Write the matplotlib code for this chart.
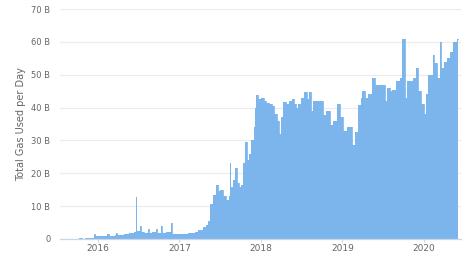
import numpy as np
import pandas as pd
import matplotlib
matplotlib.use("Agg")
import matplotlib.pyplot as plt

# daily gas used (billions), step breakpoints
dates = [
    "2015-07-30", "2015-09-15", "2015-10-10", "2015-10-25", "2015-11-05", "2015-11-20",
    "2015-12-01", "2015-12-14", "2015-12-20", "2016-01-05", "2016-02-14", "2016-02-19",
    "2016-03-01", "2016-03-20", "2016-03-25", "2016-03-30", "2016-04-15", "2016-04-29",
    "2016-05-21", "2016-06-12", "2016-06-19", "2016-06-23", "2016-07-11", "2016-07-15",
    "2016-07-26", "2016-08-14", "2016-08-18", "2016-08-31", "2016-09-18", "2016-09-22",
    "2016-10-11", "2016-10-15", "2016-11-01", "2016-11-25", "2016-11-29", "2016-12-10",
    "2017-01-01", "2017-02-10", "2017-03-10", "2017-03-27", "2017-04-18", "2017-05-01",
    "2017-05-11", "2017-05-20", "2017-06-02", "2017-06-16", "2017-06-25", "2017-07-04",
    "2017-07-15", "2017-07-27", "2017-08-10", "2017-08-14", "2017-08-18", "2017-08-28",
    "2017-09-08", "2017-09-15", "2017-09-23", "2017-10-02", "2017-10-14", "2017-10-24",
    "2017-10-30", "2017-11-10", "2017-11-20", "2017-11-30", "2017-12-05", "2017-12-10",
    "2017-12-20", "2018-01-01", "2018-01-14", "2018-01-25", "2018-02-06", "2018-02-18",
    "2018-03-01", "2018-03-15", "2018-03-25", "2018-03-31", "2018-04-10", "2018-04-25",
    "2018-05-08", "2018-05-20", "2018-05-31", "2018-06-08", "2018-06-15", "2018-07-01",
    "2018-07-15", "2018-07-25", "2018-08-05", "2018-08-15", "2018-08-22", "2018-09-15",
    "2018-10-05", "2018-10-20", "2018-11-05", "2018-11-20", "2018-12-08", "2018-12-20",
    "2019-01-05", "2019-01-20", "2019-02-05", "2019-02-12", "2019-02-26", "2019-03-10",
    "2019-03-25", "2019-03-31", "2019-04-10", "2019-04-26", "2019-05-14", "2019-05-25",
    "2019-06-10", "2019-06-25", "2019-07-11", "2019-07-20", "2019-08-01", "2019-08-11",
    "2019-08-29", "2019-09-16", "2019-09-24", "2019-10-06", "2019-10-17", "2019-10-30",
    "2019-11-13", "2019-11-28", "2019-12-05", "2019-12-20", "2020-01-02", "2020-01-10",
    "2020-01-18", "2020-02-05", "2020-02-09", "2020-02-15", "2020-03-01", "2020-03-14",
    "2020-03-19", "2020-04-01", "2020-04-12", "2020-04-25", "2020-05-09", "2020-05-27",
    "2020-06-01",
]
gas = [
    0.03, 0.05, 0.15, 0.05, 0.3, 0.2,
    0.35, 1.6, 1.0, 0.8, 1.4, 0.8,
    1.0, 1.2, 1.8, 1.1, 1.3, 1.5,
    1.8, 2.0, 12.8, 2.5, 3.8, 2.0,
    1.8, 3.0, 1.9, 2.2, 3.0, 1.8,
    4.0, 1.8, 2.0, 4.9, 1.6, 1.5,
    1.5, 1.8, 2.2, 2.6, 3.5, 4.2,
    5.5, 10.5, 13.5, 16.4, 14.5, 15.0,
    13.0, 11.9, 13.0, 23.0, 15.8, 18.0,
    21.6, 17.0, 15.8, 16.4, 23.0, 29.5,
    24.0, 26.0, 30.0, 34.0, 40.0, 43.8,
    42.5, 43.0, 42.0, 41.5, 41.0, 40.5,
    38.0, 36.0, 32.0, 37.0, 41.6, 41.0,
    42.0, 42.5, 41.0, 40.0, 41.0, 43.0,
    44.7, 42.5, 44.7, 39.0, 42.0, 42.0,
    37.7, 39.0, 34.6, 36.0, 41.0, 37.0,
    33.0, 34.0, 34.0, 28.6, 32.5, 40.7,
    43.0, 45.0, 43.0, 44.0, 49.0, 47.0,
    46.8, 47.0, 42.0, 46.0, 45.0, 45.5,
    48.0, 49.0, 61.0, 43.0, 48.0, 48.0,
    49.0, 52.0, 45.0, 41.0, 38.0, 44.0,
    50.0, 50.0, 56.0, 53.5, 49.0, 60.0,
    52.0, 54.0, 55.0, 57.0, 60.0, 61.0,
    61.0,
]
yticks = [0, 10, 20, 30, 40, 50, 60, 70]
ylabels = ["0"] + [f"{v} B" for v in yticks[1:]]
years = ["2016", "2017", "2018", "2019", "2020"]

x = pd.to_datetime(dates)

fig = plt.figure(figsize=(4.69, 2.6), dpi=100)
ax = fig.add_axes([0.128, 0.081, 0.855, 0.884])

ax.fill_between(x, gas, step="post", color="#7cb5ec", linewidth=0)
ax.step(x, gas, where="post", color="#7cb5ec", linewidth=0.6)

ax.set_ylim(0, 70)
ax.set_xlim(pd.Timestamp("2015-07-17"), pd.Timestamp("2020-06-15"))
ax.set_yticks(yticks)
ax.set_yticklabels(ylabels)
ax.set_xticks(pd.to_datetime([y + "-01-01" for y in years]))
ax.set_xticklabels(years)

ax.grid(axis="y", color="#ececec", linewidth=0.9)
ax.set_axisbelow(True)
for s in ["top", "right", "left"]:
    ax.spines[s].set_visible(False)
ax.spines["bottom"].set_color("#ccd6eb")
ax.spines["bottom"].set_linewidth(0.9)
ax.spines["bottom"].set_zorder(3)

ax.tick_params(axis="y", length=0, pad=7, labelsize=6, labelcolor="#666666")
ax.tick_params(axis="x", length=2.5, width=0.8, color="#ccd6eb", pad=1,
               labelsize=6.5, labelcolor="#666666")

ax.set_ylabel("Total Gas Used per Day", fontsize=7, color="#666666",
              family=["Liberation Sans Narrow", "DejaVu Sans"], labelpad=3.5)

fig.savefig("out.png", dpi=100)
